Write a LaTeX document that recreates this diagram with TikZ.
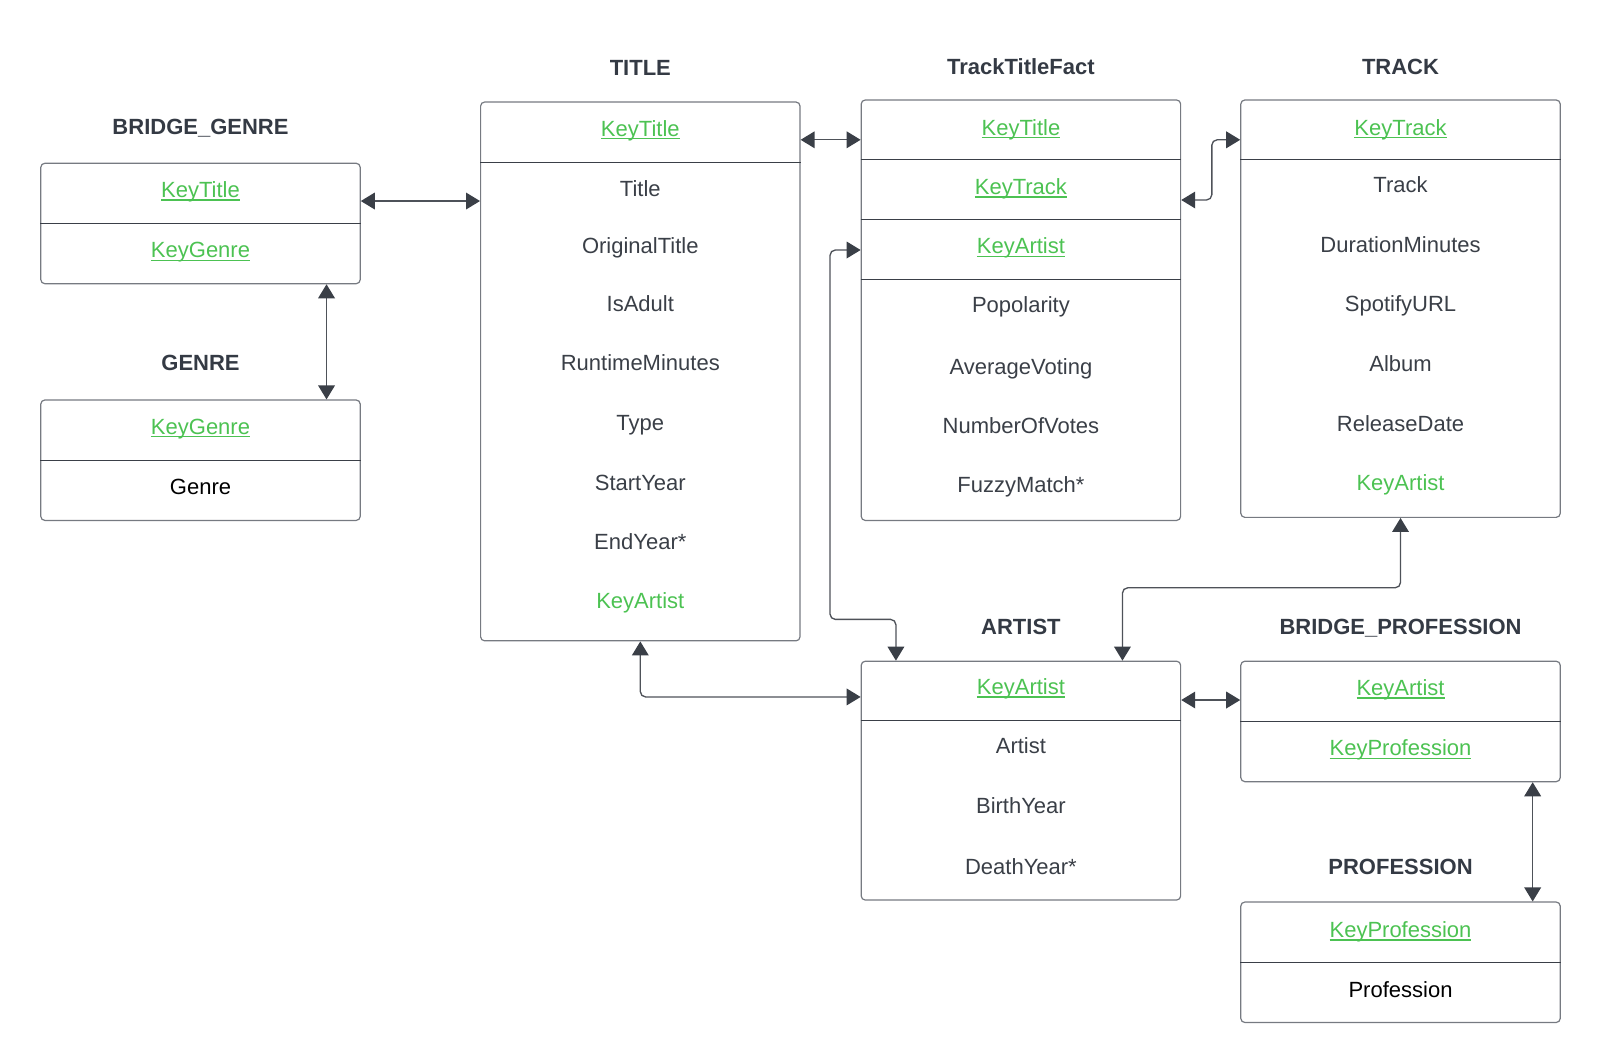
\documentclass[tikz,border=0pt]{standalone}
\usepackage{fontspec}
\setmainfont{Liberation Sans}
\usetikzlibrary{arrows.meta,positioning}

\definecolor{keygreen}{RGB}{76,194,82}
\definecolor{inkgray}{RGB}{58,63,71}
\definecolor{rimgray}{RGB}{118,122,129}
\definecolor{headgray}{RGB}{52,58,68}

\newcommand{\pxu}{0.7653pt}
\newcommand{\keyul}[1]{\setbox0\hbox{#1}\rlap{\rule[-2.4pt]{\wd0}{0.9pt}}\box0}

\tikzset{
  tablebox/.style={draw=rimgray, line width=0.9pt, rounded corners=3pt, minimum width=313*\pxu, inner sep=0pt},
  divline/.style={draw=inkgray, line width=0.7pt},
  celltext/.style={font=\fontsize{16.5}{19}\selectfont, text height=12pt, text depth=2pt},
  tabletitle/.style={celltext, font=\fontsize{16.5}{19}\selectfont\bfseries, text=headgray},
  rowtext/.style={celltext, text=inkgray},
  keytext/.style={celltext, text=keygreen},
  link/.style={draw=inkgray!90!white, line width=1pt, rounded corners=4pt,
    {Triangle[length=10.5pt,width=12.5pt,color=inkgray]}-{Triangle[length=10.5pt,width=12.5pt,color=inkgray]}},
}

\begin{document}
\begin{tikzpicture}[x=\pxu,y=\pxu,yscale=-1,xscale=1]
\useasboundingbox (0,0) rectangle (1568,1041.8);

% Tables
\draw (196.5,219) node [tablebox, minimum height=118*\pxu] (bgenre) {};
\draw (196.5,451) node [tablebox, minimum height=118*\pxu] (genre) {};
\draw (627.5,364) node [tablebox, minimum height=528*\pxu] (title) {};
\draw (1000.5,304) node [tablebox, minimum height=412*\pxu] (ttf) {};
\draw (1372.5,302.5) node [tablebox, minimum height=409*\pxu] (track) {};
\draw (1000.5,765) node [tablebox, minimum height=234*\pxu] (artist) {};
\draw (1372.5,707) node [tablebox, minimum height=118*\pxu] (bprof) {};
\draw (1372.5,943) node [tablebox, minimum height=118*\pxu] (prof) {};

% Dividers
\draw [divline] (bgenre.west |- 0,219) -- (bgenre.east |- 0,219);
\draw [divline] (genre.west |- 0,451) -- (genre.east |- 0,451);
\draw [divline] (title.west |- 0,159) -- (title.east |- 0,159);
\draw [divline] (ttf.west |- 0,156) -- (ttf.east |- 0,156);
\draw [divline] (ttf.west |- 0,215) -- (ttf.east |- 0,215);
\draw [divline] (ttf.west |- 0,274) -- (ttf.east |- 0,274);
\draw [divline] (track.west |- 0,156) -- (track.east |- 0,156);
\draw [divline] (artist.west |- 0,706) -- (artist.east |- 0,706);
\draw [divline] (bprof.west |- 0,707) -- (bprof.east |- 0,707);
\draw [divline] (prof.west |- 0,943) -- (prof.east |- 0,943);

% Table titles
\draw (196.5,125) node [tabletitle] (bgenre-h) {BRIDGE\_GENRE};
\draw (196.5,357) node [tabletitle] (genre-h) {GENRE};
\draw (627.5,67) node [tabletitle] (title-h) {TITLE};
\draw (1000.5,66) node [tabletitle] (ttf-h) {TrackTitleFact};
\draw (1372.5,66) node [tabletitle] (track-h) {TRACK};
\draw (1000.5,615) node [tabletitle] (artist-h) {ARTIST};
\draw (1372.5,615) node [tabletitle] (bprof-h) {BRIDGE\_PROFESSION};
\draw (1372.5,850) node [tabletitle] (prof-h) {PROFESSION};

% BRIDGE_GENRE rows
\draw (196.5,187) node [keytext] (bgenre1) {\keyul{KeyTitle}};
\draw (196.5,246) node [keytext] (bgenre2) {\keyul{KeyGenre}};
% GENRE rows
\draw (196.5,419) node [keytext] (genre1) {\keyul{KeyGenre}};
\draw (196.5,478) node [rowtext, text=black] (genre2) {Genre};
% TITLE rows
\draw (627.5,127) node [keytext] (title1) {\keyul{KeyTitle}};
\draw (627.5,186) node [rowtext] (title2) {Title};
\draw (627.5,242) node [rowtext] (title3) {OriginalTitle};
\draw (627.5,299) node [rowtext] (title4) {IsAdult};
\draw (627.5,357) node [rowtext] (title5) {RuntimeMinutes};
\draw (627.5,415) node [rowtext] (title6) {Type};
\draw (627.5,474) node [rowtext] (title7) {StartYear};
\draw (627.5,532) node [rowtext] (title8) {EndYear*};
\draw (627.5,590) node [keytext] (title9) {KeyArtist};
% TrackTitleFact rows
\draw (1000.5,126) node [keytext] (ttf1) {\keyul{KeyTitle}};
\draw (1000.5,184) node [keytext] (ttf2) {\keyul{KeyTrack}};
\draw (1000.5,242) node [keytext] (ttf3) {\keyul{KeyArtist}};
\draw (1000.5,300) node [rowtext] (ttf4) {Popolarity};
\draw (1000.5,360) node [rowtext] (ttf5) {AverageVoting};
\draw (1000.5,418) node [rowtext] (ttf6) {NumberOfVotes};
\draw (1000.5,476) node [rowtext] (ttf7) {FuzzyMatch*};
% TRACK rows
\draw (1372.5,126) node [keytext] (track1) {\keyul{KeyTrack}};
\draw (1372.5,182) node [rowtext] (track2) {Track};
\draw (1372.5,241) node [rowtext] (track3) {DurationMinutes};
\draw (1372.5,299) node [rowtext] (track4) {SpotifyURL};
\draw (1372.5,358) node [rowtext] (track5) {Album};
\draw (1372.5,416) node [rowtext] (track6) {ReleaseDate};
\draw (1372.5,474) node [keytext] (track7) {KeyArtist};
% ARTIST rows
\draw (1000.5,674) node [keytext] (artist1) {\keyul{KeyArtist}};
\draw (1000.5,732) node [rowtext] (artist2) {Artist};
\draw (1000.5,791) node [rowtext] (artist3) {BirthYear};
\draw (1000.5,850) node [rowtext] (artist4) {DeathYear*};
% BRIDGE_PROFESSION rows
\draw (1372.5,675) node [keytext] (bprof1) {\keyul{KeyArtist}};
\draw (1372.5,734) node [keytext] (bprof2) {\keyul{KeyProfession}};
% PROFESSION rows
\draw (1372.5,912) node [keytext] (prof1) {\keyul{KeyProfession}};
\draw (1372.5,971) node [rowtext, text=black] (prof2) {Profession};

% Relations
\draw [link] (bgenre.east |- 0,197) -- (title.west |- 0,197);
\draw [link] (bgenre.south -| 320,0) -- (genre.north -| 320,0);
\draw [link] (title.east |- 0,137) -- (ttf.west |- 0,137);
\draw [link] (ttf.east |- 0,196) -- ++(30,0) |- (track.west |- 0,137);
\draw [link] (ttf.west |- 0,245) -- ++(-30,0) |- (878,607) -- (artist.north -| 878,0);
\draw [link] (title.south) |- (artist.west |- 0,683);
\draw [link] (track.south) |- (1100,576) -- (artist.north -| 1100,0);
\draw [link] (artist.east |- 0,686) -- (bprof.west |- 0,686);
\draw [link] (bprof.south -| 1502,0) -- (prof.north -| 1502,0);

\end{tikzpicture}
\end{document}
